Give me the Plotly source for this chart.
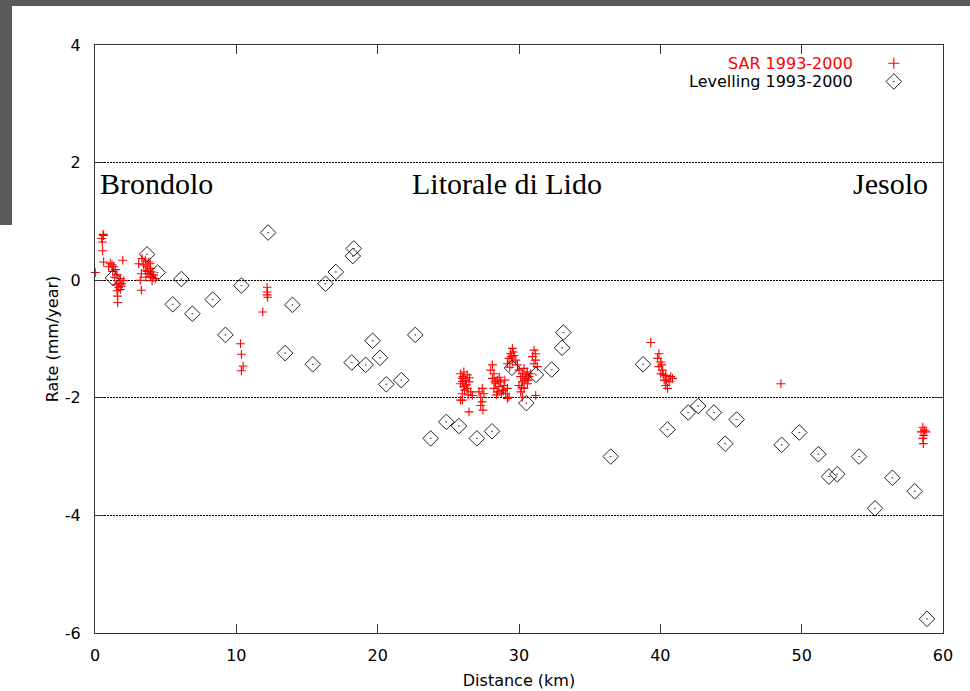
import plotly.graph_objects as go

# ---------------- data ----------------
sar_x = [0.57, 0.61, 0.47, 0.52, 0.54, 0.61, 0.02,
         1.08, 1.20, 1.32, 0.96, 1.44, 1.56, 1.79, 2.03, 1.91, 1.67, 1.56, 1.79, 1.60, 1.60, 1.96,
         1.25, 1.40, 1.70, 1.85, 1.50,
         3.33, 3.56, 3.80, 3.44, 3.68, 3.92, 3.56, 4.04, 3.80, 4.15, 3.92, 4.27, 4.04, 3.28, 3.20,
         3.28, 3.09, 3.60, 3.90, 4.10, 3.70,
         12.18, 12.18, 12.18, 12.22, 11.87,
         10.29, 10.36, 10.48, 10.36,
         25.87, 26.10, 26.34, 25.99, 26.22, 26.46, 25.87, 26.10, 26.34, 26.58, 25.99, 26.70, 25.87, 26.46,
         26.05, 26.28, 26.15, 26.40, 26.00, 26.50,
         27.40, 27.17, 27.52, 27.29, 27.40, 27.29, 27.45,
         28.12, 28.00, 28.23, 28.12, 28.47, 28.35, 28.70, 28.58, 28.94, 28.23, 28.82, 29.18, 28.47, 29.06, 29.29,
         28.30, 28.60, 28.90, 28.40, 28.75, 29.00,
         29.53, 29.41, 29.65, 29.29, 29.77, 29.53, 29.89, 29.18,
         29.45, 29.60, 29.35,
         30.00, 30.35, 30.24, 30.59, 30.12, 30.47, 30.71, 30.24, 30.59, 30.00, 30.35, 30.12, 30.24, 30.83,
         30.40, 30.65, 30.18, 30.50,
         31.06, 31.18, 30.95, 31.18, 31.06, 31.30, 31.18,
         25.99, 29.18,
         39.32, 39.90, 39.80, 40.03, 39.90, 40.15, 40.03, 40.38, 40.73, 40.27, 40.62, 40.38, 40.51, 40.86,
         40.10, 40.45, 40.20,
         48.53,
         58.57, 58.68, 58.45, 58.64, 58.57, 58.61, 58.80]
sar_y = [0.78, 0.76, 0.71, 0.65, 0.50, 0.31, 0.13,
         0.29, 0.26, 0.23, 0.23, 0.18, 0.09, 0.03, -0.01, -0.06, -0.12, -0.18, -0.16, -0.27, -0.38, 0.34,
         0.15, 0.05, -0.05, -0.10, -0.08,
         0.37, 0.34, 0.31, 0.26, 0.23, 0.20, 0.17, 0.14, 0.11, 0.09, 0.06, 0.03, -0.01, 0.11, 0.00,
         -0.17, 0.28, 0.05, 0.28, 0.05, 0.15,
         -0.12, -0.20, -0.25, -0.29, -0.54,
         -1.08, -1.26, -1.46, -1.54,
         -1.59, -1.56, -1.61, -1.67, -1.70, -1.73, -1.76, -1.81, -1.84, -1.90, -1.93, -1.96, -2.04, -2.24,
         -1.64, -1.78, -1.87, -1.95, -1.72, -1.66,
         -1.84, -1.90, -1.93, -1.99, -2.07, -2.13, -2.21,
         -1.44, -1.53, -1.59, -1.67, -1.70, -1.76, -1.73, -1.81, -1.79, -1.84, -1.87, -1.84, -1.90, -1.93, -1.99,
         -1.73, -1.65, -1.88, -1.95, -1.92, -1.70,
         -1.16, -1.25, -1.28, -1.33, -1.36, -1.39, -1.44, -1.42,
         -1.30, -1.22, -1.48,
         -1.53, -1.50, -1.59, -1.56, -1.64, -1.67, -1.64, -1.73, -1.76, -1.79, -1.84, -1.90, -1.99, -1.59,
         -1.70, -1.70, -1.82, -1.61,
         -1.19, -1.25, -1.30, -1.36, -1.42, -1.47, -1.96,
         -2.04, -2.01,
         -1.06, -1.25, -1.33, -1.39, -1.47, -1.53, -1.59, -1.62, -1.64, -1.70, -1.73, -1.79, -1.84, -1.67,
         -1.44, -1.70, -1.60,
         -1.76,
         -2.50, -2.55, -2.58, -2.64, -2.69, -2.78, -2.58]

lev_x = [-0.05, 1.27, 3.68, 4.43, 5.50, 6.11, 6.89, 8.33, 9.23, 10.36, 12.25, 13.45, 13.97, 15.41,
         16.31, 17.04, 18.16, 18.24, 18.31, 19.15, 19.64, 20.16, 20.61, 21.67, 22.66, 23.75, 24.86,
         25.75, 27.02, 28.09, 29.50, 30.52, 31.20, 32.31, 33.05, 33.14, 36.49, 38.78, 40.51, 41.97,
         42.68, 43.79, 44.59, 45.40, 48.58, 49.83, 51.18, 51.93, 52.52, 54.06, 55.19, 56.42, 58.00, 58.87]
lev_y = [-0.15, 0.04, 0.44, 0.13, -0.41, 0.02, -0.57, -0.33, -0.93, -0.09, 0.81, -1.24, -0.42, -1.43,
         -0.06, 0.14, -1.40, 0.41, 0.54, -1.44, -1.03, -1.32, -1.77, -1.70, -0.93, -2.69, -2.41,
         -2.48, -2.69, -2.57, -1.49, -2.09, -1.61, -1.52, -1.15, -0.89, -3.00, -1.43, -2.54, -2.25,
         -2.14, -2.25, -2.78, -2.37, -2.80, -2.59, -2.96, -3.34, -3.30, -3.00, -3.88, -3.36, -3.59, -5.76]

x_ticks = [0, 10, 20, 30, 40, 50, 60]
x_tick_labels = ["0", "10", "20", "30", "40", "50", "60"]
y_ticks = [-6, -4, -2, 0, 2, 4]
y_tick_labels = ["-6", "-4", "-2", "0", "2", "4"]
series_names = ["SAR 1993-2000", "Levelling 1993-2000"]
places = ["Brondolo", "Litorale di Lido", "Jesolo"]

SANS = "DejaVu Sans"
SERIF = "Liberation Serif"
AX = "#333333"

fig = go.Figure()

fig.add_trace(go.Scatter(
    x=sar_x, y=sar_y, mode="markers", name=series_names[0], showlegend=False,
    cliponaxis=False,
    marker=dict(symbol="cross-thin-open", size=6.3, color="red",
                line=dict(color="red", width=1.1)),
))
fig.add_trace(go.Scatter(
    x=lev_x, y=lev_y, mode="markers", name=series_names[1], showlegend=False,
    cliponaxis=False,
    marker=dict(symbol="diamond-open-dot", size=12, color="#222222",
                line=dict(color="#222222", width=1)),
))

# key symbols (gnuplot-style key: text then symbol) on an overlay axis spanning the plot area
fig.add_trace(go.Scatter(
    x=[0.942], y=[0.969], xaxis="x2", yaxis="y2", mode="markers", showlegend=False,
    hoverinfo="skip", cliponaxis=False,
    marker=dict(symbol="cross-thin-open", size=8, color="red", line=dict(color="red", width=1.1)),
))
fig.add_trace(go.Scatter(
    x=[0.942], y=[0.938], xaxis="x2", yaxis="y2", mode="markers", showlegend=False,
    hoverinfo="skip", cliponaxis=False,
    marker=dict(symbol="diamond-open-dot", size=12, color="#222222",
                line=dict(color="#222222", width=1)),
))

annotations = [
    dict(text=series_names[0], x=0.896, y=0.969, xref="paper", yref="paper",
         xanchor="right", yanchor="middle", showarrow=False,
         font=dict(family=SANS, size=16, color="red")),
    dict(text=series_names[1], x=0.896, y=0.938, xref="paper", yref="paper",
         xanchor="right", yanchor="middle", showarrow=False,
         font=dict(family=SANS, size=16, color="black")),
    dict(text=places[0], x=0.003, y=0.765, xref="paper", yref="paper",
         xanchor="left", yanchor="middle", showarrow=False,
         font=dict(family=SERIF, size=30, color="black")),
    dict(text=places[1], x=0.372, y=0.765, xref="paper", yref="paper",
         xanchor="left", yanchor="middle", showarrow=False,
         font=dict(family=SERIF, size=30, color="black")),
    dict(text=places[2], x=0.985, y=0.765, xref="paper", yref="paper",
         xanchor="right", yanchor="middle", showarrow=False,
         font=dict(family=SERIF, size=30, color="black")),
]

BG = "#5a5a5a"
shapes = [
    # dark textured backdrop strips (top and upper-left)
    dict(type="rect", xref="paper", yref="paper", x0=-0.12, x1=1.04, y0=1.0663, y1=1.08,
         fillcolor=BG, line=dict(width=0), layer="below"),
    dict(type="rect", xref="paper", yref="paper", x0=-0.12, x1=-0.0979, y0=0.694, y1=1.08,
         fillcolor=BG, line=dict(width=0), layer="below"),
]

axis_common = dict(
    showline=True, linecolor=AX, linewidth=1, mirror="allticks",
    ticks="inside", ticklen=9, tickwidth=1, tickcolor=AX,
    tickfont=dict(family=SANS, size=16, color="black"),
    zeroline=False,
)

fig.update_layout(
    width=970, height=691,
    margin=dict(l=95, r=27, t=45, b=58, autoexpand=False),
    paper_bgcolor="white", plot_bgcolor="white",
    xaxis=dict(range=[0, 60], tickvals=x_ticks, ticktext=x_tick_labels, showgrid=False,
               ticklabelstandoff=8,
               title=dict(text="Distance (km)", standoff=10,
                          font=dict(family=SANS, size=16, color="black")),
               **axis_common),
    yaxis=dict(range=[-6, 4], tickvals=y_ticks, ticktext=y_tick_labels, showgrid=True,
               gridcolor="black", gridwidth=1, griddash="2px,1px",
               ticklabelstandoff=10,
               title=dict(text="Rate (mm/year)", standoff=2,
                          font=dict(family=SANS, size=16, color="black")),
               **axis_common),
    xaxis2=dict(overlaying="x", range=[0, 1], visible=False, fixedrange=True),
    yaxis2=dict(overlaying="y", range=[0, 1], visible=False, fixedrange=True),
    annotations=annotations,
    shapes=shapes,
    showlegend=False,
)

fig.write_html("out.html")
